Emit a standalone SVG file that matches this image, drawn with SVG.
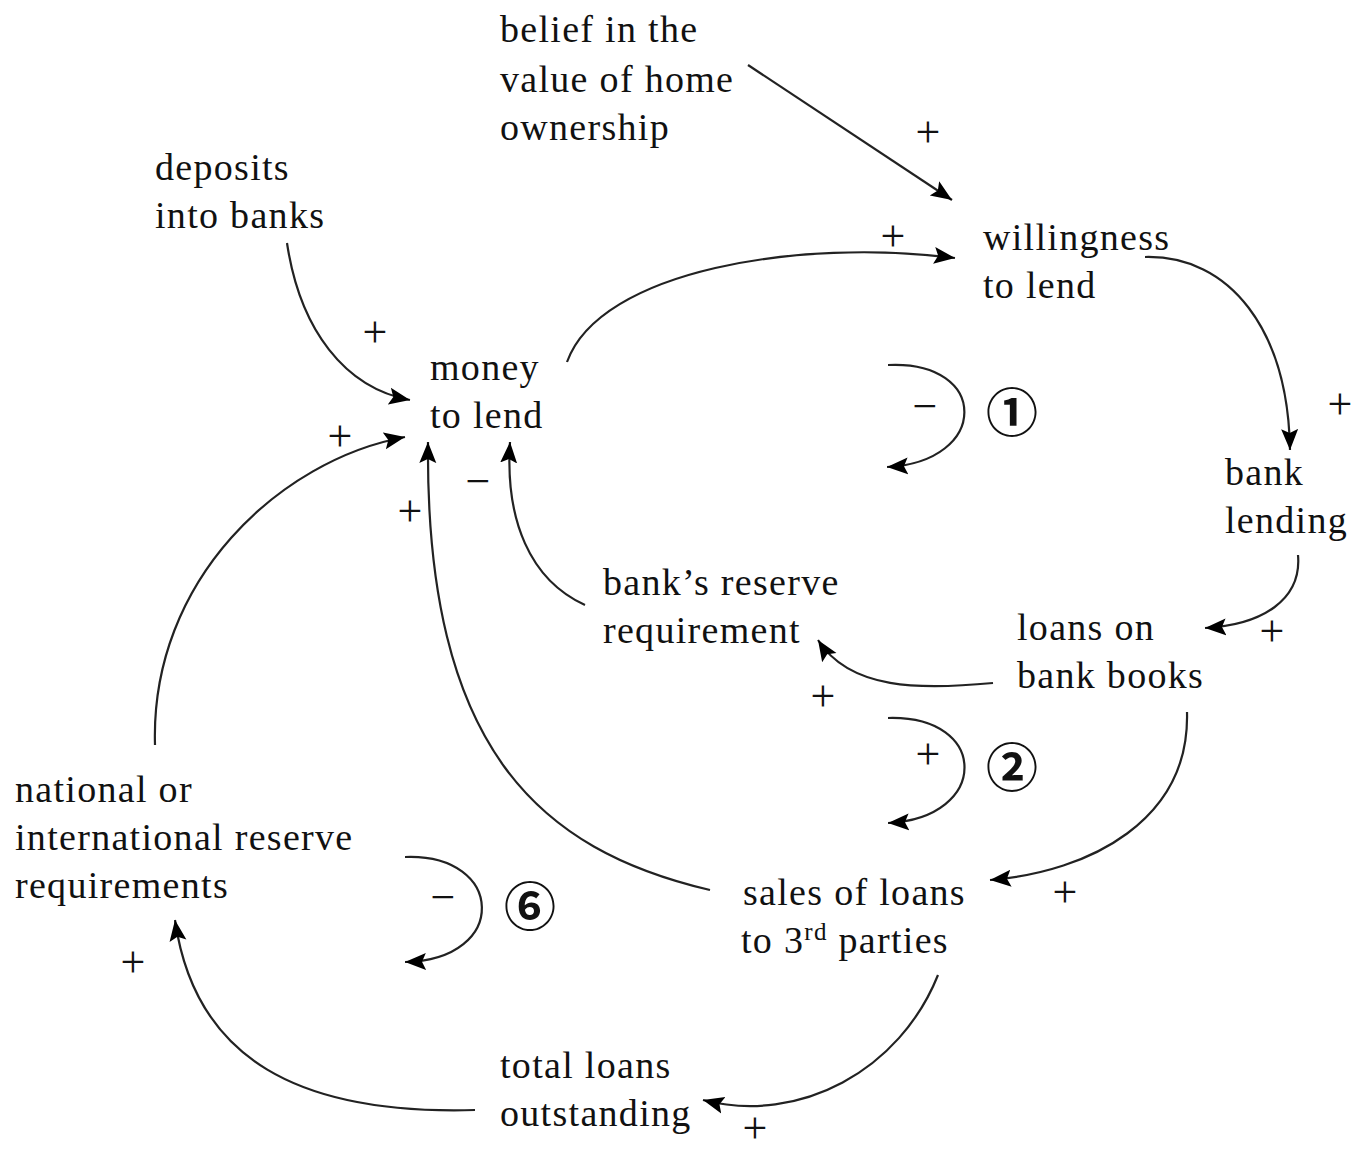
<svg xmlns="http://www.w3.org/2000/svg" width="1359" height="1152" viewBox="0 0 1359 1152">
<defs>
<marker id="ah" markerUnits="userSpaceOnUse" markerWidth="24" markerHeight="20" refX="21" refY="10" orient="auto">
<path d="M0,1.5 L21,10 L0,18.5 L4,10 Z" fill="#000"/>
</marker>
<style>
text{font-family:"Liberation Serif","Times New Roman",serif;font-size:38px;letter-spacing:1.3px;fill:#111}
.s{font-size:44px;letter-spacing:0}
.loop{font-family:"Noto Sans CJK JP","DejaVu Sans",sans-serif;font-size:52px;font-weight:bold;letter-spacing:0}
.c{fill:none;stroke:#222;stroke-width:2.2;marker-end:url(#ah)}
</style>
</defs>
<rect width="1359" height="1152" fill="#fff"/>
<g id="connectors">
<path class="c" d="M748,65 L952,200"/>
<path class="c" d="M287,243 C300,330 345,388 410,400"/>
<path class="c" d="M567,362 C600,270 800,238 955,258"/>
<path class="c" d="M1145,257 C1230,255 1288,330 1290,450"/>
<path class="c" d="M1298,555 C1302,600 1262,625 1205,628"/>
<path class="c" d="M993,683 C920,690 850,690 818,640"/>
<path class="c" d="M585,605 C530,580 505,520 510,442"/>
<path class="c" d="M1187,712 C1190,820 1090,872 990,880"/>
<path class="c" d="M710,890 C540,850 425,750 428,442"/>
<path class="c" d="M155,745 C150,580 280,460 405,437"/>
<path class="c" d="M938,975 C900,1070 800,1125 703,1100"/>
<path class="c" d="M475,1110 C300,1115 195,1060 175,920"/>
<path class="c" d="M888,365 C990,360 990,462 887,467"/>
<path class="c" d="M888,718 C990,715 990,818 888,823"/>
<path class="c" d="M405,857 C505,853 510,960 405,962"/>
</g>
<g id="belief"><text x="500" y="42">belief in the</text><text x="500" y="92">value of home</text><text x="500" y="140">ownership</text></g>
<g id="deposits"><text x="155" y="180">deposits</text><text x="155" y="228">into banks</text></g>
<g id="willingness"><text x="983" y="250">willingness</text><text x="983" y="298">to lend</text></g>
<g id="money"><text x="430" y="380">money</text><text x="430" y="428">to lend</text></g>
<g id="banklending"><text x="1225" y="485">bank</text><text x="1225" y="533">lending</text></g>
<g id="reserve"><text x="603" y="595">bank’s reserve</text><text x="603" y="643">requirement</text></g>
<g id="loans"><text x="1017" y="640">loans on</text><text x="1017" y="688">bank books</text></g>
<g id="national"><text x="15" y="802">national or</text><text x="15" y="850">international reserve</text><text x="15" y="898">requirements</text></g>
<g id="sales"><text x="743" y="905">sales of loans</text><text x="741" y="953">to 3<tspan font-size="25" dy="-13">rd</tspan><tspan dy="13"> parties</tspan></text></g>
<g id="total"><text x="500" y="1078">total loans</text><text x="500" y="1126">outstanding</text></g>
<g id="signs">
<text class="s" x="928" y="147" text-anchor="middle">+</text>
<text class="s" x="893" y="251" text-anchor="middle">+</text>
<text class="s" x="375" y="347" text-anchor="middle">+</text>
<text class="s" x="340" y="451" text-anchor="middle">+</text>
<text class="s" x="1340" y="419" text-anchor="middle">+</text>
<text class="s" x="410" y="526" text-anchor="middle">+</text>
<text class="s" x="1272" y="646" text-anchor="middle">+</text>
<text class="s" x="823" y="711" text-anchor="middle">+</text>
<text class="s" x="928" y="769" text-anchor="middle">+</text>
<text class="s" x="1065" y="907" text-anchor="middle">+</text>
<text class="s" x="133" y="977" text-anchor="middle">+</text>
<text class="s" x="755" y="1143" text-anchor="middle" font-size="38">+</text>
<text class="s" x="478" y="496" text-anchor="middle">−</text>
<text class="s" x="925" y="421" text-anchor="middle">−</text>
<text class="s" x="443" y="912" text-anchor="middle">−</text>
</g>
<g id="loops">
<text class="loop" x="1012" y="432" text-anchor="middle">①</text>
<text class="loop" x="1012" y="787" text-anchor="middle">②</text>
<text class="loop" x="530" y="926" text-anchor="middle">⑥</text>
</g>
</svg>
